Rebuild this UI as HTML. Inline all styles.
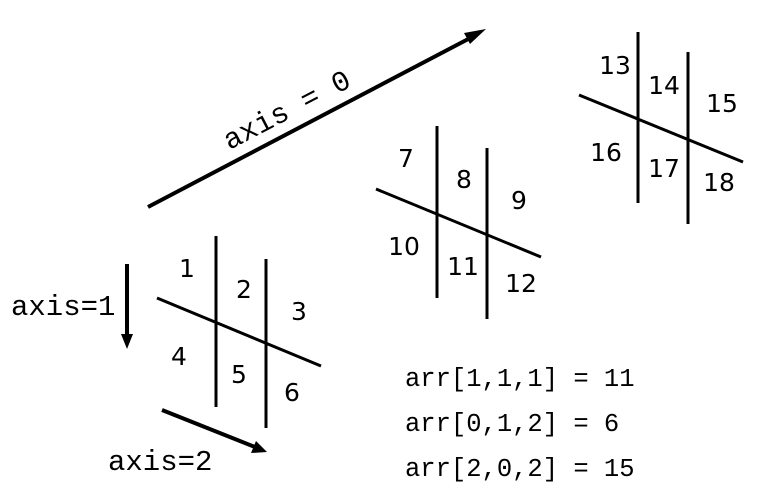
<!DOCTYPE html>
<html><head><meta charset="utf-8"><style>
html,body{margin:0;padding:0;background:#fff;}
svg{display:block;}
.n{font-family:"DejaVu Sans","Liberation Sans",sans-serif;font-size:25px;fill:#000;}
.m{font-family:"Courier New","Liberation Mono",monospace;font-size:25.5px;fill:#000;}
.a{font-family:"Courier New","Liberation Mono",monospace;font-size:29px;fill:#000;}
</style></head><body>
<svg width="773" height="501" viewBox="0 0 773 501" xmlns="http://www.w3.org/2000/svg">
<g stroke="#000" stroke-width="3" fill="none">
<line x1="216" y1="236" x2="216" y2="407"/>
<line x1="266" y1="259" x2="266" y2="428"/>
<line x1="157" y1="298" x2="321" y2="366"/>
<line x1="437" y1="126" x2="437" y2="298"/>
<line x1="487" y1="148" x2="487" y2="319"/>
<line x1="376" y1="189" x2="541" y2="257"/>
<line x1="638" y1="32" x2="638" y2="203"/>
<line x1="688" y1="52" x2="688" y2="224"/>
<line x1="579" y1="95" x2="743" y2="162"/>
</g>
<g stroke="#000" stroke-width="4" fill="none">
<line x1="148" y1="207" x2="474" y2="36"/>
<line x1="127" y1="264" x2="127" y2="336"/>
<line x1="162" y1="410" x2="255" y2="447"/>
</g>
<g fill="#000">
<polygon points="486,29 470,44 464,33"/>
<polygon points="127,349 121,334 133,334"/>
<polygon points="267,452 251,453 256,441"/>
</g>
<g class="n" text-anchor="middle">
<text x="187" y="277">1</text><text x="244" y="298">2</text><text x="299" y="320">3</text>
<text x="179" y="365">4</text><text x="239" y="383">5</text><text x="292" y="401">6</text>
<text x="406" y="167">7</text><text x="464" y="188">8</text><text x="519" y="209">9</text>
<text x="404" y="255">10</text><text x="463" y="275">11</text><text x="521" y="292">12</text>
<text x="615" y="74">13</text><text x="664" y="94">14</text><text x="722" y="112">15</text>
<text x="606" y="161">16</text><text x="664" y="177">17</text><text x="719" y="191">18</text>
</g>
<text class="a" x="0" y="0" text-anchor="middle" transform="translate(291,118) rotate(-27.5)">axis = 0</text>
<text class="a" x="11" y="315">axis=1</text>
<text class="a" x="108" y="470">axis=2</text>
<text class="m" x="405" y="386">arr[1,1,1] = 11</text>
<text class="m" x="405" y="431">arr[0,1,2] = 6</text>
<text class="m" x="405" y="476">arr[2,0,2] = 15</text>
</svg>
</body></html>
